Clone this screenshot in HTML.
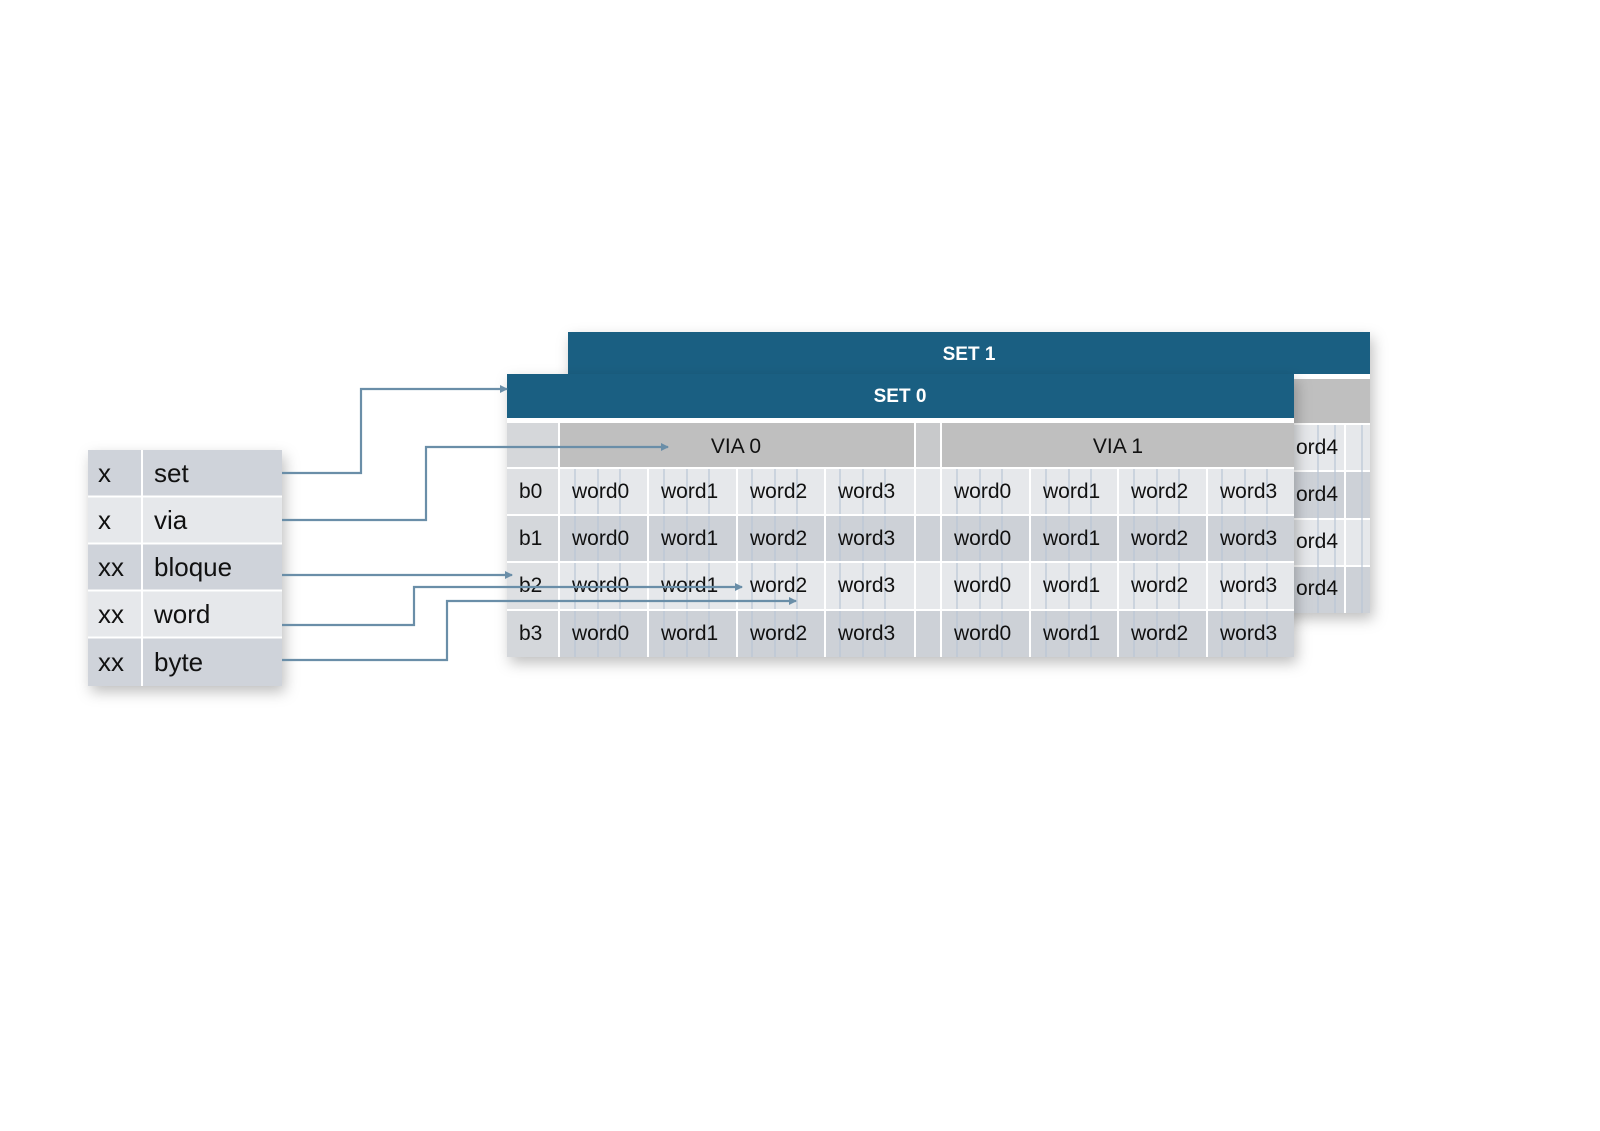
<!DOCTYPE html>
<html><head><meta charset="utf-8"><style>
html,body{margin:0;padding:0;background:#fff;}
svg{display:block;}
text{font-family:"Liberation Sans",sans-serif;}
</style></head><body>
<svg width="1600" height="1131" viewBox="0 0 1600 1131" xmlns="http://www.w3.org/2000/svg">
<defs>
<filter id="sh" x="-10%" y="-10%" width="130%" height="140%">
<feDropShadow dx="3" dy="6" stdDeviation="7" flood-color="#000" flood-opacity="0.25"/>
</filter>
<marker id="ar" markerWidth="8" markerHeight="8" refX="7" refY="4" orient="auto" markerUnits="userSpaceOnUse">
<path d="M0,0 L8,4 L0,8 z" fill="#6a8ea8"/>
</marker>
</defs>
<rect width="1600" height="1131" fill="#fff"/>

<!-- SET 1 (behind) -->
<g filter="url(#sh)">
<rect x="568" y="332" width="802" height="281" fill="#fff"/>
</g>
<rect x="568" y="332" width="802" height="42" fill="#1a5f82"/>
<text x="969" y="360" font-size="19" font-weight="bold" fill="#fff" text-anchor="middle">SET 1</text>
<rect x="568" y="379" width="802" height="44" fill="#bfbfbf"/>
<rect x="1294" y="425" width="76" height="45" fill="#e6e8eb"/>
<rect x="1294" y="472" width="76" height="46" fill="#cdd1d7"/>
<rect x="1294" y="520" width="76" height="45" fill="#e6e8eb"/>
<rect x="1294" y="567" width="76" height="46" fill="#cdd1d7"/>
<line x1="1345" y1="425" x2="1345" y2="613" stroke="#fff" stroke-width="2"/>
<g stroke="#b9c6d6" stroke-width="1.2">
<line x1="1318" y1="425" x2="1318" y2="613"/><line x1="1335" y1="425" x2="1335" y2="613"/><line x1="1362" y1="425" x2="1362" y2="613"/>
</g>
<g font-size="21" fill="#111">
<text x="1296" y="454">ord4</text><text x="1296" y="501">ord4</text><text x="1296" y="548">ord4</text><text x="1296" y="595">ord4</text>
</g>

<!-- SET 0 -->
<g filter="url(#sh)">
<rect x="507" y="374" width="787" height="283" fill="#fff"/>
</g>
<rect x="507" y="374" width="787" height="44" fill="#1a5f82"/>
<text x="900" y="402" font-size="19" font-weight="bold" fill="#fff" text-anchor="middle">SET 0</text>
<rect x="507" y="423" width="51" height="44" fill="#d5d7da"/>
<rect x="560" y="423" width="354" height="44" fill="#bfbfbf"/>
<rect x="916" y="423" width="24" height="44" fill="#c8c9cb"/>
<rect x="942" y="423" width="352" height="44" fill="#bfbfbf"/>
<text x="736" y="453" font-size="21" fill="#111" text-anchor="middle">VIA 0</text>
<text x="1118" y="453" font-size="21" fill="#111" text-anchor="middle">VIA 1</text>

<g>
<rect x="507" y="469" width="787" height="45" fill="#e6e8eb"/>
<rect x="507" y="516" width="787" height="45" fill="#cdd1d7"/>
<rect x="507" y="563" width="787" height="46" fill="#e6e8eb"/>
<rect x="507" y="611" width="787" height="46" fill="#cdd1d7"/>
<rect x="507" y="469" width="51" height="188" fill="#d8dadd" opacity="0.6"/>
</g>
<g stroke="#b9c6d6" stroke-width="1.2">
<line x1="575" y1="469" x2="575" y2="657"/><line x1="598" y1="469" x2="598" y2="657"/><line x1="620" y1="469" x2="620" y2="657"/>
<line x1="664" y1="469" x2="664" y2="657"/><line x1="687" y1="469" x2="687" y2="657"/><line x1="709" y1="469" x2="709" y2="657"/>
<line x1="752" y1="469" x2="752" y2="657"/><line x1="775" y1="469" x2="775" y2="657"/><line x1="797" y1="469" x2="797" y2="657"/>
<line x1="840" y1="469" x2="840" y2="657"/><line x1="863" y1="469" x2="863" y2="657"/><line x1="885" y1="469" x2="885" y2="657"/>
<line x1="957" y1="469" x2="957" y2="657"/><line x1="980" y1="469" x2="980" y2="657"/><line x1="1002" y1="469" x2="1002" y2="657"/>
<line x1="1046" y1="469" x2="1046" y2="657"/><line x1="1069" y1="469" x2="1069" y2="657"/><line x1="1091" y1="469" x2="1091" y2="657"/>
<line x1="1134" y1="469" x2="1134" y2="657"/><line x1="1157" y1="469" x2="1157" y2="657"/><line x1="1179" y1="469" x2="1179" y2="657"/>
<line x1="1222" y1="469" x2="1222" y2="657"/><line x1="1245" y1="469" x2="1245" y2="657"/><line x1="1267" y1="469" x2="1267" y2="657"/>
</g>
<g stroke="#fff" stroke-width="2">
<line x1="507" y1="421" x2="1294" y2="421"/>
<line x1="507" y1="468" x2="1294" y2="468"/>
<line x1="507" y1="515" x2="1294" y2="515"/>
<line x1="507" y1="562" x2="1294" y2="562"/>
<line x1="507" y1="610" x2="1294" y2="610"/>
<line x1="559" y1="423" x2="559" y2="657"/>
<line x1="648" y1="469" x2="648" y2="657"/>
<line x1="737" y1="469" x2="737" y2="657"/>
<line x1="825" y1="469" x2="825" y2="657"/>
<line x1="915" y1="423" x2="915" y2="657"/>
<line x1="941" y1="423" x2="941" y2="657"/>
<line x1="1030" y1="469" x2="1030" y2="657"/>
<line x1="1118" y1="469" x2="1118" y2="657"/>
<line x1="1207" y1="469" x2="1207" y2="657"/>
</g>
<g font-size="21" fill="#111">
<text x="519" y="498">b0</text><text x="519" y="545">b1</text><text x="519" y="592">b2</text><text x="519" y="640">b3</text>
<text x="572" y="498">word0</text><text x="661" y="498">word1</text><text x="750" y="498">word2</text><text x="838" y="498">word3</text>
<text x="954" y="498">word0</text><text x="1043" y="498">word1</text><text x="1131" y="498">word2</text><text x="1220" y="498">word3</text>
<text x="572" y="545">word0</text><text x="661" y="545">word1</text><text x="750" y="545">word2</text><text x="838" y="545">word3</text>
<text x="954" y="545">word0</text><text x="1043" y="545">word1</text><text x="1131" y="545">word2</text><text x="1220" y="545">word3</text>
<text x="572" y="592">word0</text><text x="661" y="592">word1</text><text x="750" y="592">word2</text><text x="838" y="592">word3</text>
<text x="954" y="592">word0</text><text x="1043" y="592">word1</text><text x="1131" y="592">word2</text><text x="1220" y="592">word3</text>
<text x="572" y="640">word0</text><text x="661" y="640">word1</text><text x="750" y="640">word2</text><text x="838" y="640">word3</text>
<text x="954" y="640">word0</text><text x="1043" y="640">word1</text><text x="1131" y="640">word2</text><text x="1220" y="640">word3</text>
</g>

<!-- left table -->
<g filter="url(#sh)">
<rect x="88" y="450" width="194" height="236" fill="#fff"/>
</g>
<rect x="88" y="450" width="194" height="46" fill="#cfd3da"/>
<rect x="88" y="497" width="194" height="46" fill="#e6e8eb"/>
<rect x="88" y="544" width="194" height="46" fill="#cfd3da"/>
<rect x="88" y="591" width="194" height="46" fill="#e6e8eb"/>
<rect x="88" y="638" width="194" height="48" fill="#cfd3da"/>
<g stroke="#fff" stroke-width="2">
<line x1="142" y1="450" x2="142" y2="686"/>
<line x1="88" y1="496.5" x2="282" y2="496.5"/>
<line x1="88" y1="543.5" x2="282" y2="543.5"/>
<line x1="88" y1="590.5" x2="282" y2="590.5"/>
<line x1="88" y1="637.5" x2="282" y2="637.5"/>
</g>
<g font-size="26" fill="#111">
<text x="98" y="482">x</text><text x="154" y="482">set</text>
<text x="98" y="529">x</text><text x="154" y="529">via</text>
<text x="98" y="576">xx</text><text x="154" y="576">bloque</text>
<text x="98" y="623">xx</text><text x="154" y="623">word</text>
<text x="98" y="671">xx</text><text x="154" y="671">byte</text>
</g>

<!-- connectors -->
<g fill="none" stroke="#6a8ea8" stroke-width="2.2" marker-end="url(#ar)">
<polyline points="282,473 361,473 361,389 507,389"/>
<polyline points="282,520 426,520 426,447 668,447"/>
<polyline points="282,575 512,575"/>
<polyline points="282,625 414,625 414,587 742,587"/>
<polyline points="282,660 447,660 447,601 796,601"/>
</g>
</svg>
</body></html>
